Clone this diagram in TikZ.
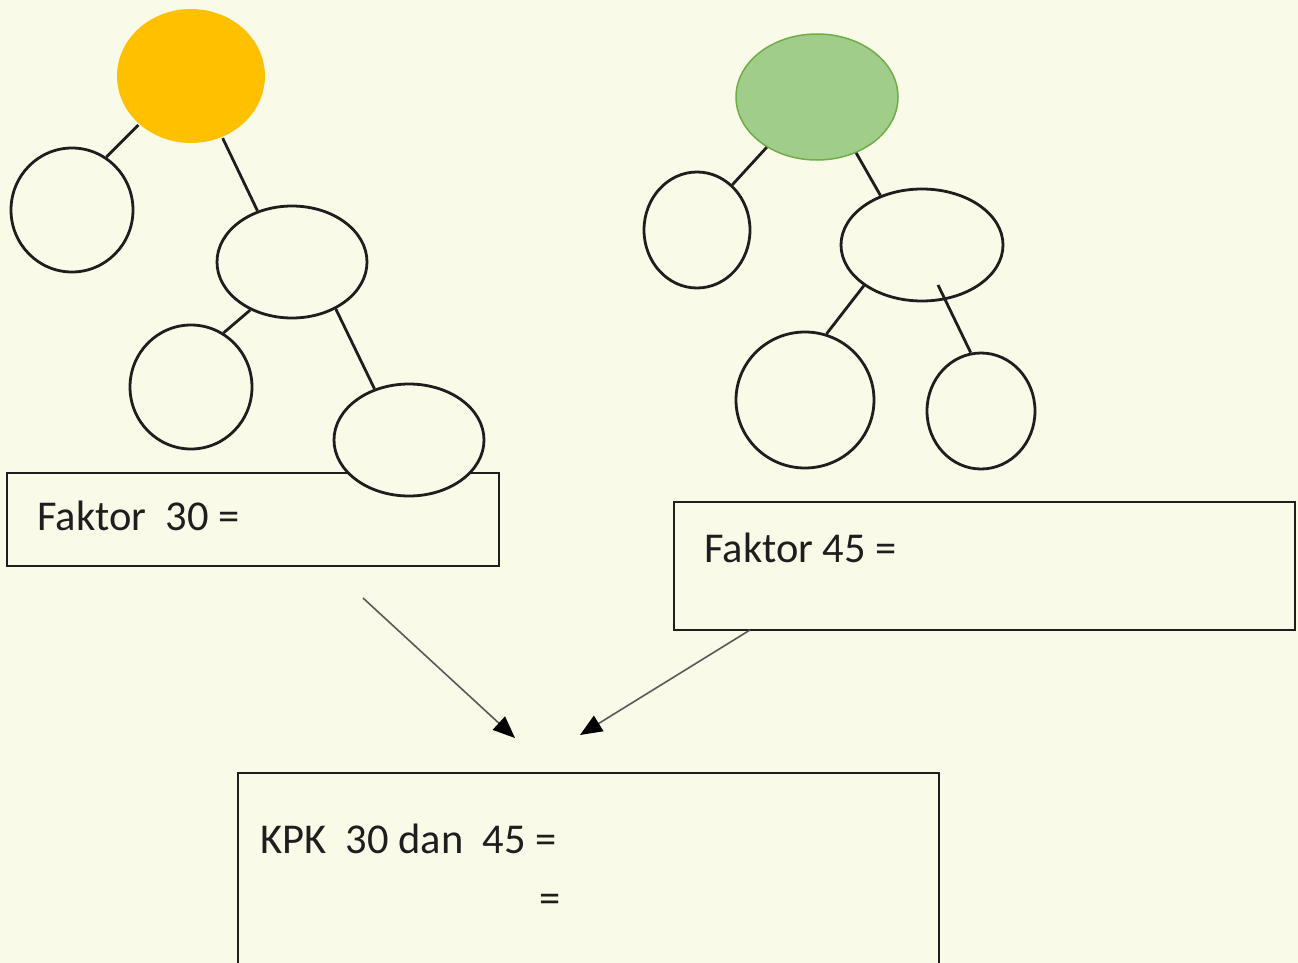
\documentclass[tikz,border=0pt]{standalone}
\usepackage{fontspec}
\setmainfont{Carlito}
\usetikzlibrary{arrows.meta,shapes.geometric}
\definecolor{paper}{RGB}{250,250,233}
\definecolor{sun}{RGB}{255,192,0}
\definecolor{leaf}{RGB}{160,205,138}
\definecolor{leafline}{RGB}{112,173,71}
\definecolor{ink}{RGB}{30,30,30}
\begin{document}
\begin{tikzpicture}[x=1pt,y=-1pt,
				every node/.style={ellipse,draw=ink,line width=2.8pt,fill=paper,inner sep=0pt},
				factor/.style={draw=ink,line width=2.4pt,fill=paper},
				label/.style={shape=rectangle,draw=none,fill=none,anchor=base west,text=ink,
					font=\fontsize{42.5}{50}\selectfont},
				link/.style={draw=ink,line width=2.8pt},
				pointer/.style={draw=black!65,line width=1.6pt,-{Triangle[length=22pt,width=18pt,color=black]}}]
\clip (0,0) rectangle (1298,963);
\fill[paper] (0,0) rectangle (1298,963);
% boxes first
\draw[factor] (7,473) rectangle (499,566);
\draw[factor] (674,502) rectangle (1295,630);
\draw[factor] (238,773) rectangle (939,990);
\node[label] (text30) at (36,530) {Faktor\ \ 30 =};
\node[label] (text45) at (703,562) {Faktor 45 =};
\node[label] (textkpk) at (259,853) {KPK\ \ 30 dan\ \ 45 =};
\node[label] (texteq) at (538,912) {=};
% tree of 30
\node[draw=none,fill=sun,minimum width=148pt,minimum height=134pt] (root30) at (191,76) {};
\node[minimum width=122pt,minimum height=124pt] (a30) at (72,210) {};
\node[minimum width=150pt,minimum height=112pt] (b30) at (292,262) {};
\node[minimum width=122pt,minimum height=124pt] (c30) at (191,387) {};
\node[minimum width=150pt,minimum height=112pt] (d30) at (409,440) {};
\draw[link] (root30.-137) -- (a30.57);
\draw[link] (root30.-63) -- (b30.124);
\draw[link] (b30.-131) -- (c30.59);
\draw[link] (b30.-47) -- (d30.124);
% tree of 45
\node[draw=leafline,line width=1.5pt,fill=leaf,minimum width=162pt,minimum height=126pt] (root45) at (817,97) {};
\node[minimum width=106pt,minimum height=116pt] (a45) at (697,230) {};
\node[minimum width=162pt,minimum height=112pt] (b45) at (922,245) {};
\node[minimum width=138pt,minimum height=136pt] (c45) at (805,400) {};
\node[minimum width=108pt,minimum height=116pt] (d45) at (981,411) {};
\draw[link] (root45.-135) -- (a45.52);
\draw[link] (root45.-55) -- (b45.130);
\draw[link] (b45.-145) -- (c45.72);
\draw[link] ([shift={(16,40)}]b45.center) -- (d45.100);
% arrows to KPK
\coordinate (from30) at (363,598);
\coordinate (to30) at (515,738);
\coordinate (from45) at (750,630);
\coordinate (to45) at (580,735);
\draw[pointer] (from30) -- (to30);
\draw[pointer] (from45) -- (to45);
\end{tikzpicture}
\end{document}
